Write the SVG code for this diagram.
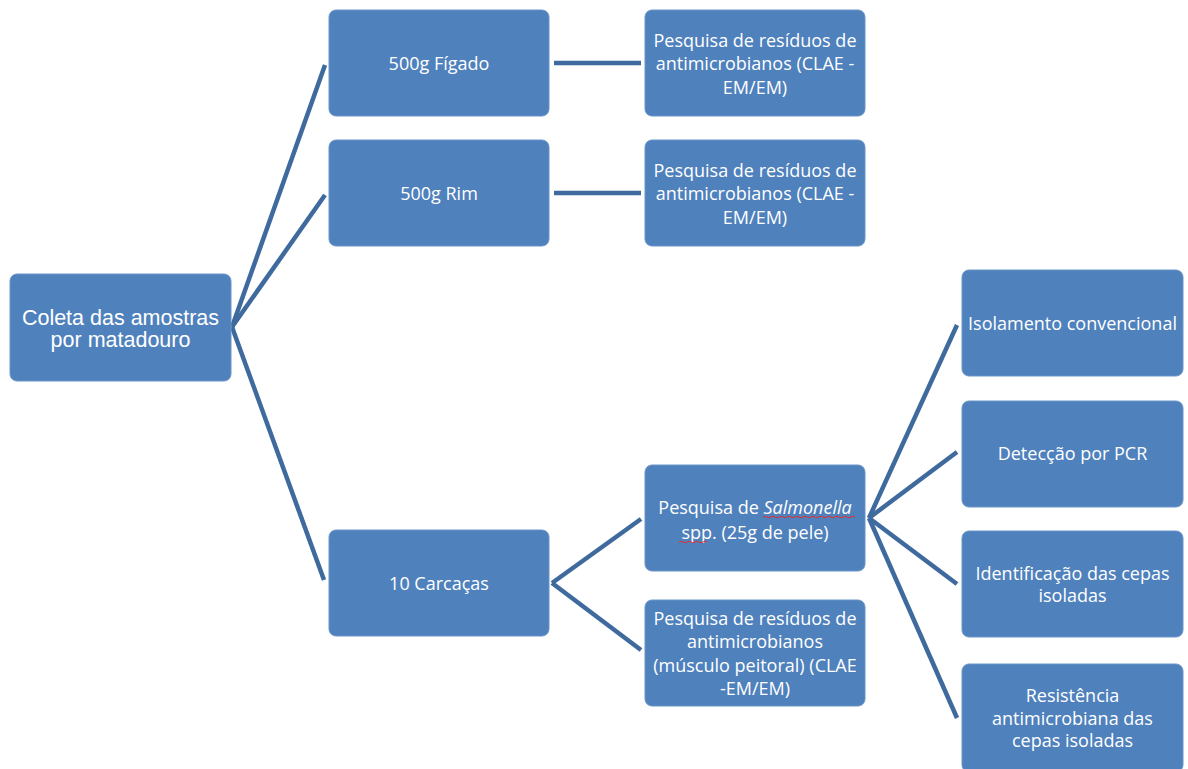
<svg xmlns="http://www.w3.org/2000/svg" width="1188" height="769" viewBox="0 0 1188 769">
<style>
.box{fill:#4F81BD;stroke:#6B95C8;stroke-width:1}
.t{fill:#FFFFFF;font-family:"Open Sans",Lato,sans-serif;font-size:18px;text-anchor:middle}
.ta{fill:#FFFFFF;font-family:"Liberation Sans",Arial,sans-serif;font-size:21.5px;text-anchor:middle}
.c{stroke:#3F6A9E;stroke-width:4.5;fill:none;stroke-linecap:butt}
.sq{stroke:#E03030;stroke-width:1;fill:none}
</style>
<rect width="1188" height="769" fill="#FFFFFF"/>
<g id="connectors">
<line class="c" x1="232" y1="327" x2="325" y2="65"/>
<line class="c" x1="232" y1="327" x2="325" y2="195"/>
<line class="c" x1="232" y1="327" x2="324" y2="580"/>
<line class="c" x1="554" y1="63" x2="641" y2="63"/>
<line class="c" x1="554" y1="193" x2="641" y2="193"/>
<line class="c" x1="552" y1="583" x2="641" y2="519"/>
<line class="c" x1="552" y1="583" x2="641" y2="650"/>
<line class="c" x1="869" y1="518" x2="957" y2="325"/>
<line class="c" x1="869" y1="518" x2="957" y2="452"/>
<line class="c" x1="869" y1="518" x2="957" y2="584"/>
<line class="c" x1="869" y1="518" x2="957" y2="718"/>
</g>
<g id="n-coleta">
<rect class="box" x="10" y="274" width="221" height="107" rx="7"/>
<text class="ta" x="120.5" y="324.5">Coleta das amostras</text>
<text class="ta" x="120.5" y="347">por matadouro</text>
</g>
<g id="n-figado">
<rect class="box" x="329" y="10" width="220" height="106" rx="7"/>
<text class="t" x="439" y="69.5">500g Fígado</text>
</g>
<g id="n-rim">
<rect class="box" x="329" y="140" width="220" height="106" rx="7"/>
<text class="t" x="439" y="199.5">500g Rim</text>
</g>
<g id="n-carcacas">
<rect class="box" x="329" y="530" width="220" height="106" rx="7"/>
<text class="t" x="439" y="589.5">10 Carcaças</text>
</g>
<g id="n-res-figado">
<rect class="box" x="645" y="10" width="220" height="106" rx="7"/>
<text class="t" x="755" y="46.5">Pesquisa de resíduos de</text>
<text class="t" x="755" y="70">antimicrobianos (CLAE -</text>
<text class="t" x="755" y="93.5">EM/EM)</text>
</g>
<g id="n-res-rim">
<rect class="box" x="645" y="140" width="220" height="106" rx="7"/>
<text class="t" x="755" y="176.5">Pesquisa de resíduos de</text>
<text class="t" x="755" y="200">antimicrobianos (CLAE -</text>
<text class="t" x="755" y="223.5">EM/EM)</text>
</g>
<g id="n-salmonella">
<rect class="box" x="645" y="465" width="220" height="106" rx="7"/>
<text class="t" x="755" y="513.5">Pesquisa de <tspan font-style="italic">Salmonella</tspan></text>
<text class="t" x="755" y="538.5">spp. (25g de pele)</text>
<path class="sq" d="M763 517 q2 -1.5 4 0 t4 0 t4 0 t4 0 t4 0 t4 0 t4 0 t4 0 t4 0 t4 0 t4 0 t4 0 t4 0 t4 0 t4 0 t4 0 t4 0 t4 0 t4 0 t4 0 t4 0 t4 0 t4 0"/>
<path class="sq" d="M679 542 q2 -1.5 4 0 t4 0 t4 0 t4 0 t4 0 t4 0 t4 0"/>
</g>
<g id="n-res-musculo">
<rect class="box" x="645" y="600" width="220" height="106" rx="7"/>
<text class="t" x="755" y="624.5">Pesquisa de resíduos de</text>
<text class="t" x="755" y="648">antimicrobianos</text>
<text class="t" x="755" y="671.5">(músculo peitoral) (CLAE</text>
<text class="t" x="755" y="695">-EM/EM)</text>
</g>
<g id="n-isolamento">
<rect class="box" x="962" y="270" width="221" height="106" rx="7"/>
<text class="t" x="1072.5" y="329.5">Isolamento convencional</text>
</g>
<g id="n-pcr">
<rect class="box" x="962" y="401" width="221" height="106" rx="7"/>
<text class="t" x="1072.5" y="459.5">Detecção por PCR</text>
</g>
<g id="n-identificacao">
<rect class="box" x="962" y="531" width="221" height="106" rx="7"/>
<text class="t" x="1072.5" y="579.5">Identificação das cepas</text>
<text class="t" x="1072.5" y="602">isoladas</text>
</g>
<g id="n-resistencia">
<rect class="box" x="962" y="664" width="221" height="108" rx="7"/>
<text class="t" x="1072.5" y="701.5">Resistência</text>
<text class="t" x="1072.5" y="724.5">antimicrobiana das</text>
<text class="t" x="1072.5" y="747">cepas isoladas</text>
</g>
</svg>
